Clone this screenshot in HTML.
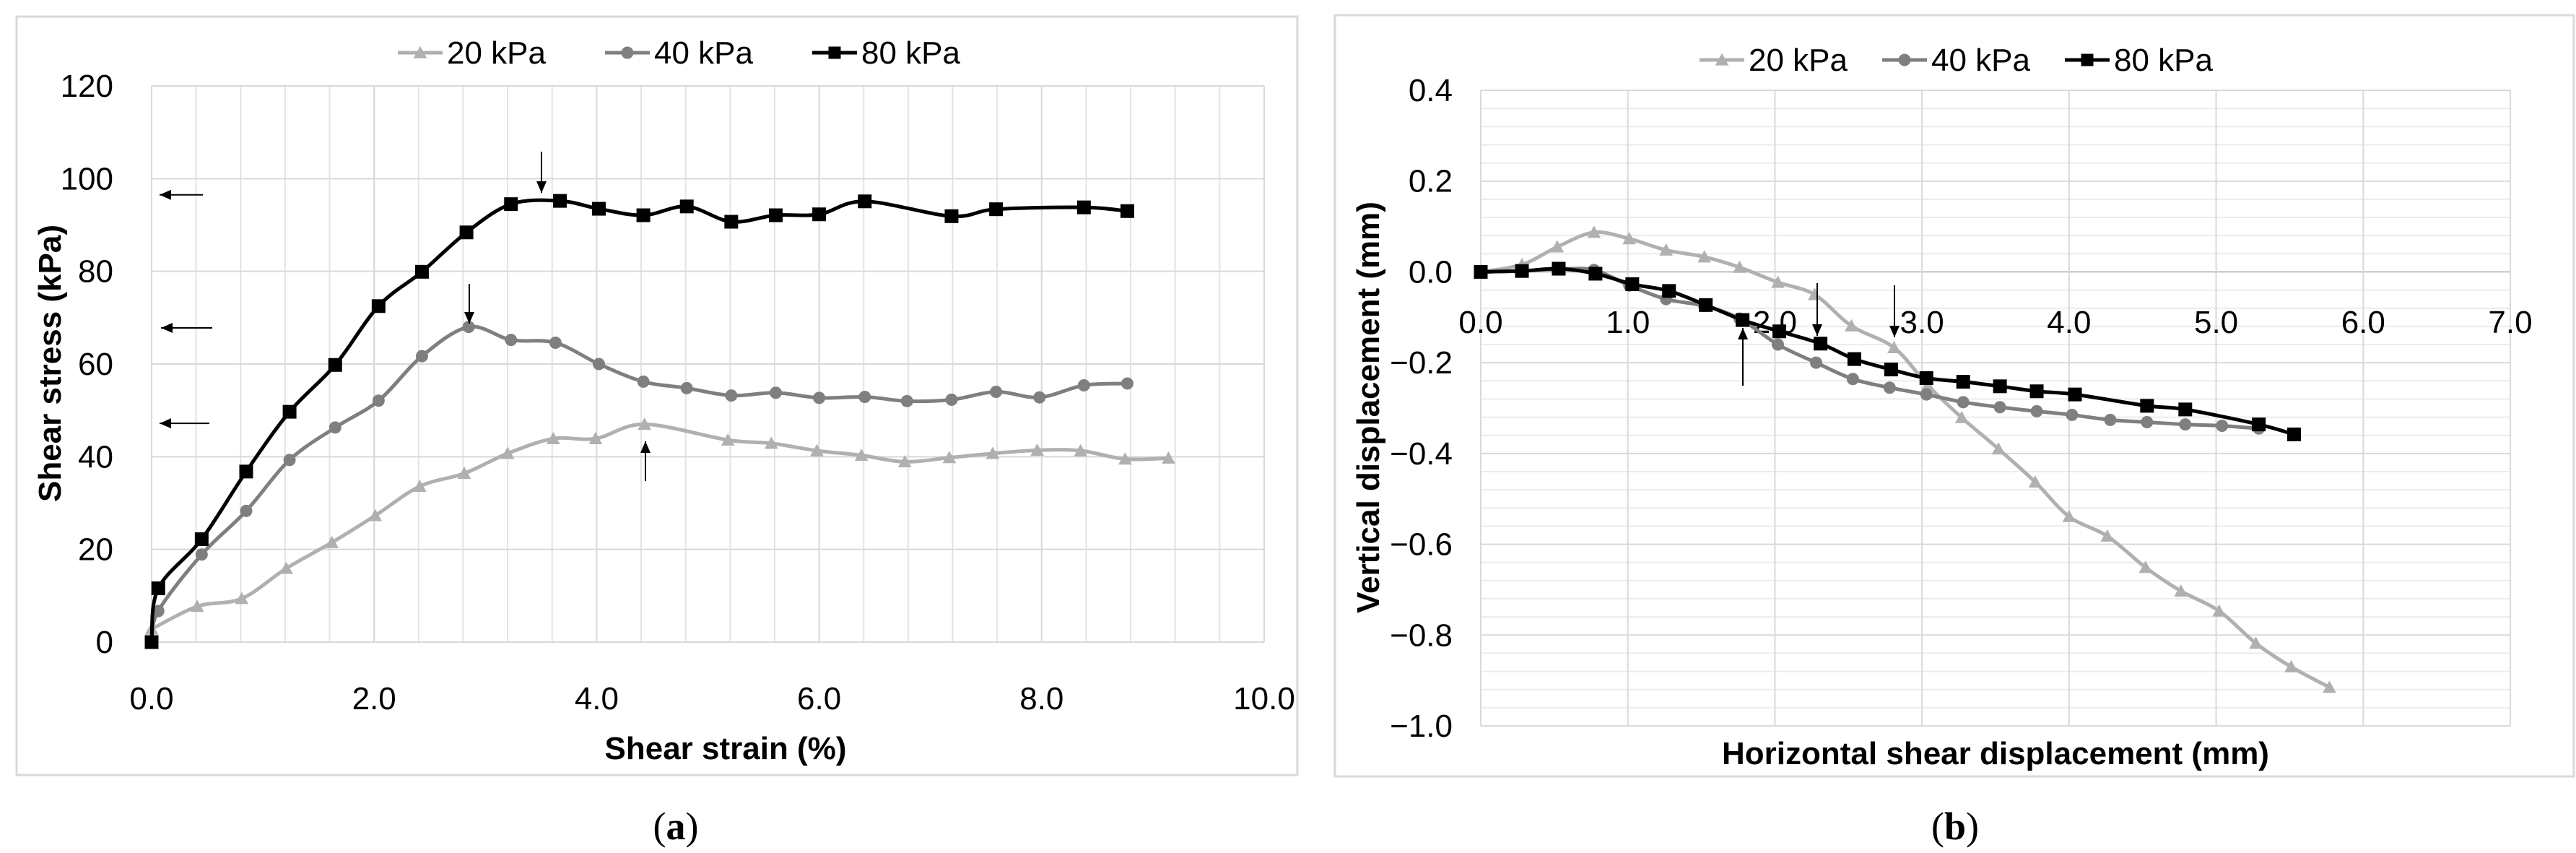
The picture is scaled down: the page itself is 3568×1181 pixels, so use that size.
<!DOCTYPE html>
<html><head><meta charset="utf-8"><style>
html,body{margin:0;padding:0;background:#fff;}
svg{display:block;font-family:"Liberation Sans",sans-serif;}
</style></head><body>
<svg id="fig" width="3568" height="1181" viewBox="0 0 3568 1181" xmlns="http://www.w3.org/2000/svg">
<rect x="23" y="23" width="1774" height="1050" fill="#fff" stroke="#d9d9d9" stroke-width="3"/>
<rect x="1849" y="21" width="1716" height="1054" fill="#fff" stroke="#d9d9d9" stroke-width="3"/>
<g id="ga"></g>
<g id="gb"></g>
<text x="936" y="1162" font-family="Liberation Serif,serif" font-size="54" text-anchor="middle">(<tspan font-weight="bold">a</tspan>)</text>
<text x="2708" y="1162" font-family="Liberation Serif,serif" font-size="54" text-anchor="middle">(<tspan font-weight="bold">b</tspan>)</text>
</svg>
<script>
// ---- Chart A data ----
const aX80=[0,0.06,0.45,0.85,1.24,1.65,2.04,2.43,2.83,3.23,3.67,4.02,4.42,4.81,5.21,5.61,6.0,6.41,7.19,7.59,8.38,8.77];
const aY80=[0,11.6,22.2,36.8,49.7,59.8,72.5,79.9,88.4,94.5,95.2,93.5,92.1,94,90.7,92.1,92.3,95.1,91.9,93.4,93.8,93];
const aX40=[0,0.06,0.45,0.85,1.24,1.65,2.04,2.43,2.85,3.23,3.63,4.02,4.42,4.81,5.21,5.61,6.0,6.41,6.79,7.19,7.59,7.98,8.38,8.77];
const aY40=[0,6.7,18.9,28.3,39.3,46.3,52.1,61.7,68,65.2,64.6,60,56.2,54.8,53.2,53.8,52.7,52.9,52,52.3,54,52.8,55.4,55.8];
const aX20=[0,0.41,0.81,1.21,1.62,2.01,2.41,2.81,3.2,3.61,3.99,4.43,5.18,5.57,5.98,6.38,6.77,7.17,7.56,7.96,8.35,8.75,9.14];
const aY20=[2.8,7.7,9.4,15.9,21.5,27.3,33.6,36.4,40.7,43.9,43.9,47,43.6,42.9,41.3,40.3,38.9,39.8,40.7,41.4,41.3,39.5,39.7];
const aXTicks=["0.0","2.0","4.0","6.0","8.0","10.0"];
const aYTicks=["0","20","40","60","80","100","120"];
// ---- Chart B data ----
const bX20=[0,0.28,0.52,0.77,1.01,1.26,1.52,1.76,2.02,2.27,2.52,2.81,3.04,3.27,3.52,3.77,4.0,4.26,4.52,4.76,5.02,5.27,5.51,5.77];
const bY20=[0,0.016,0.055,0.087,0.073,0.048,0.033,0.01,-0.023,-0.05,-0.119,-0.167,-0.25,-0.321,-0.39,-0.463,-0.539,-0.582,-0.651,-0.703,-0.747,-0.818,-0.87,-0.915];
const bX40=[0,0.28,0.53,0.77,1.01,1.26,1.52,1.76,2.02,2.28,2.53,2.78,3.03,3.28,3.53,3.78,4.02,4.28,4.53,4.79,5.04,5.29];
const bY40=[0,0.002,0.006,0.004,-0.03,-0.06,-0.075,-0.103,-0.16,-0.2,-0.236,-0.255,-0.27,-0.287,-0.298,-0.307,-0.315,-0.326,-0.331,-0.336,-0.339,-0.345];
const bX80=[0,0.28,0.53,0.78,1.03,1.28,1.53,1.78,2.03,2.31,2.54,2.79,3.03,3.28,3.53,3.78,4.04,4.53,4.79,5.29,5.53];
const bY80=[0,0.002,0.007,-0.004,-0.027,-0.042,-0.073,-0.106,-0.131,-0.158,-0.192,-0.215,-0.234,-0.242,-0.252,-0.263,-0.27,-0.295,-0.303,-0.336,-0.358];
const bXTicks=["0.0","1.0","2.0","3.0","4.0","5.0","6.0","7.0"];
const bYTicks=["−1.0","−0.8","−0.6","−0.4","−0.2","0.0","0.2","0.4"];

const NS="http://www.w3.org/2000/svg";
function mk(parent,tag,attrs,txt){const e=document.createElementNS(NS,tag);for(const k in attrs)e.setAttribute(k,attrs[k]);if(txt!==undefined)e.textContent=txt;parent.appendChild(e);return e;}
function smooth(pts){let d="M"+pts[0][0]+","+pts[0][1];for(let i=0;i<pts.length-1;i++){const p0=pts[i-1]||pts[i],p1=pts[i],p2=pts[i+1],p3=pts[i+2]||p2;const t=1/6;d+=" C"+(p1[0]+(p2[0]-p0[0])*t)+","+(p1[1]+(p2[1]-p0[1])*t)+" "+(p2[0]-(p3[0]-p1[0])*t)+","+(p2[1]-(p3[1]-p1[1])*t)+" "+p2[0]+","+p2[1];}return d;}
function marker(g,type,x,y,color,s){let m;
 if(type==="sq")m=mk(g,"rect",{x:x-s/2,y:y-s/2,width:s,height:s,fill:color});
 else if(type==="ci")m=mk(g,"circle",{cx:x,cy:y,r:s/2,fill:color});
 else m=mk(g,"polygon",{points:(x)+","+(y-s*0.55)+" "+(x-s*0.55)+","+(y+s*0.45)+" "+(x+s*0.55)+","+(y+s*0.45),fill:color});
 return m;}
function arrow(g,x1,y1,x2,y2,name){const l=mk(g,"line",{x1:x1,y1:y1,x2:x2,y2:y2,stroke:"#000","stroke-width":2});
 
 
 const ang=Math.atan2(y2-y1,x2-x1),L=16,W=7;
 const h=mk(g,"polygon",{points:x2+","+y2+" "+(x2-L*Math.cos(ang)+W*Math.sin(ang))+","+(y2-L*Math.sin(ang)-W*Math.cos(ang))+" "+(x2-L*Math.cos(ang)-W*Math.sin(ang))+","+(y2-L*Math.sin(ang)+W*Math.cos(ang)),fill:"#000"});
 
 }
function legend(g,x0,y,step){const ent=[["20 kPa","#b0b0b0","tr"],["40 kPa","#7f7f7f","ci"],["80 kPa","#000","sq"]];
 ent.forEach((e,i)=>{const x=x0+i*step;const lg=mk(g,"g",{});
  
  
  mk(lg,"line",{x1:x,y1:y,x2:x+62,y2:y,stroke:e[1],"stroke-width":5});
  marker(lg,e[2],x+31,y,e[1],17);
  mk(lg,"text",{x:x+68,y:y+15,"font-size":44,fill:"#000"},e[0]);});}

// ---------- Chart A ----------
(function(){
 const g=document.getElementById("ga");
 const L=210,R=1751,T=119,B=889;
 const sx=v=>L+(v/10)*(R-L), sy=v=>B-(v/120)*(B-T);
 for(let v=0.4;v<10.01;v+=0.4){const l=mk(g,"line",{x1:sx(v),y1:T,x2:sx(v),y2:B,stroke:"#e3e3e3","stroke-width":2});
  
  }
 aYTicks.forEach((t,i)=>{const v=+t;const y=sy(v);
  const l=mk(g,"line",{x1:L,y1:y,x2:R,y2:y,stroke:"#d9d9d9","stroke-width":2});
  
  
  const tx=mk(g,"text",{x:157,y:y+15,"font-size":44,"text-anchor":"end"},t);
  
  });
 aXTicks.forEach(t=>{const x=sx(+t);
  const l=mk(g,"line",{x1:x,y1:T,x2:x,y2:B,stroke:"#d9d9d9","stroke-width":2});
  
  
  const tx=mk(g,"text",{x:x,y:982,"font-size":44,"text-anchor":"middle"},t);
  
  });
 const ax=mk(g,"line",{x1:L,y1:B,x2:R,y2:B,stroke:"#d9d9d9","stroke-width":2});
 
 
 const series=[[aX20,aY20,"#b0b0b0","tr","series-20kpa"],[aX40,aY40,"#7f7f7f","ci","series-40kpa"],[aX80,aY80,"#000","sq","series-80kpa"]];
 series.forEach(s=>{const pts=s[0].map((x,i)=>[sx(x),sy(s[1][i])]);
  const sg=mk(g,"g",{});
  
  
  mk(sg,"path",{d:smooth(pts),fill:"none",stroke:s[2],"stroke-width":5});
  pts.forEach(p=>{const m=marker(sg,s[3],p[0],p[1],s[2],s[3]==="sq"?19:17);
   
   });});
 arrow(g,281,sy(96.5),221,sy(96.5),'peak-arrow-80');
 arrow(g,294,sy(67.8),223,sy(67.8),'peak-arrow-40');
 arrow(g,290,sy(47.2),221,sy(47.2),'peak-arrow-20');
 arrow(g,750,210,750,267,'peak-marker-80');
 arrow(g,650,393,650,448,'peak-marker-40');
 arrow(g,894,666,894,611,'peak-marker-20');
 const yt=mk(g,"text",{x:0,y:0,"font-size":44,"font-weight":"bold","text-anchor":"middle",transform:"translate(84,503) rotate(-90)"},"Shear stress (kPa)");
 
 
 const xt=mk(g,"text",{x:1005,y:1051,"font-size":44,"font-weight":"bold","text-anchor":"middle"},"Shear strain (%)");
 
 
 const lg=mk(g,"g",{});
 
 
 legend(lg,551,73,287);
})();

// ---------- Chart B ----------
(function(){
 const g=document.getElementById("gb");
 const L=2051,R=3477,T=125,B=1005;
 const sx=v=>L+(v/7)*(R-L), sy=v=>T+((0.4-v)/1.4)*(B-T);
 for(let k=1;k<35;k++){if(k%5===0)continue;const y=sy(0.4-k*0.04);
  const l=mk(g,"line",{x1:L,y1:y,x2:R,y2:y,stroke:"#ececec","stroke-width":2});
  
  }
 bYTicks.forEach(t=>{const v=+t.replace("−","-");const y=sy(v);
  const l=mk(g,"line",{x1:L,y1:y,x2:R,y2:y,stroke:v===0?"#bfbfbf":"#d9d9d9","stroke-width":2});
  
  
  const tx=mk(g,"text",{x:2012,y:y+15,"font-size":44,"text-anchor":"end"},t);
  
  });
 bXTicks.forEach(t=>{const x=sx(+t);
  const l=mk(g,"line",{x1:x,y1:T,x2:x,y2:B,stroke:"#d9d9d9","stroke-width":2});
  
  
  const tx=mk(g,"text",{x:x,y:461,"font-size":44,"text-anchor":"middle"},t);
  
  });
 const series=[[bX20,bY20,"#b0b0b0","tr","series-20kpa"],[bX40,bY40,"#7f7f7f","ci","series-40kpa"],[bX80,bY80,"#000","sq","series-80kpa"]];
 series.forEach(s=>{const pts=s[0].map((x,i)=>[sx(x),sy(s[1][i])]);
  const sg=mk(g,"g",{});
  
  
  mk(sg,"path",{d:smooth(pts),fill:"none",stroke:s[2],"stroke-width":5});
  pts.forEach(p=>{const m=marker(sg,s[3],p[0],p[1],s[2],s[3]==="sq"?19:17);
   
   });});
 arrow(g,2517,392,2517,465,'peak-marker-40');
 arrow(g,2624,395,2624,467,'peak-marker-20');
 arrow(g,2414,534,2414,454,'peak-marker-80');
 const yt=mk(g,"text",{x:0,y:0,"font-size":44,"font-weight":"bold","text-anchor":"middle",transform:"translate(1910,564) rotate(-90)"},"Vertical displacement (mm)");
 
 
 const xt=mk(g,"text",{x:2764,y:1058,"font-size":44,"font-weight":"bold","text-anchor":"middle"},"Horizontal shear displacement (mm)");
 
 
 const lg=mk(g,"g",{});
 
 
 legend(lg,2354,83,253);
})();
</script>
</body></html>
